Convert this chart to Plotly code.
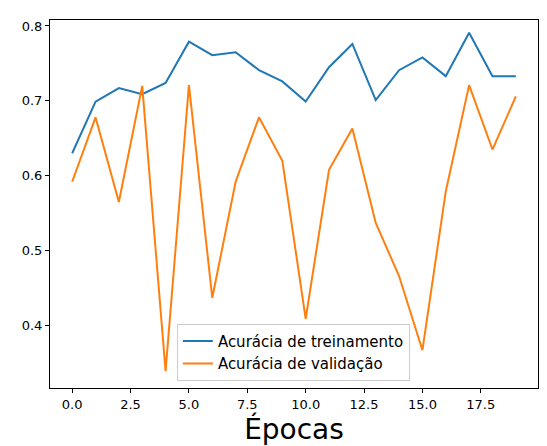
import plotly.graph_objects as go

epochs = list(range(20))
train_acc = [0.630, 0.699, 0.717, 0.709, 0.724, 0.779, 0.761, 0.765, 0.741, 0.726,
             0.699, 0.745, 0.776, 0.701, 0.741, 0.758, 0.733, 0.791, 0.733, 0.733]
val_acc = [0.592, 0.678, 0.565, 0.720, 0.339, 0.721, 0.437, 0.592, 0.678, 0.620,
           0.409, 0.608, 0.663, 0.537, 0.466, 0.367, 0.579, 0.721, 0.635, 0.706]

fig = go.Figure()
fig.add_trace(go.Scatter(x=epochs, y=train_acc, mode="lines", name="Acurácia de treinamento",
                         line=dict(color="#1f77b4", width=2)))
fig.add_trace(go.Scatter(x=epochs, y=val_acc, mode="lines", name="Acurácia de validação",
                         line=dict(color="#ff7f0e", width=2)))

axis_style = dict(showline=True, linecolor="black", mirror=True, showgrid=False, zeroline=False,
                  ticks="outside", ticklen=4, tickcolor="black", tickfont=dict(size=13, color="black"),
                  automargin=False)
fig.update_xaxes(range=[-0.95, 19.95], tickvals=[0, 2.5, 5, 7.5, 10, 12.5, 15, 17.5],
                 ticktext=["0.0", "2.5", "5.0", "7.5", "10.0", "12.5", "15.0", "17.5"],
                 title=dict(text="Épocas", font=dict(size=28, color="black"), standoff=4), **axis_style)
fig.update_yaxes(range=[0.3165, 0.808], tickvals=[0.4, 0.5, 0.6, 0.7, 0.8],
                 tickformat=".1f", **axis_style)
fig.update_layout(
    width=547, height=446, plot_bgcolor="white", paper_bgcolor="white",
    font=dict(family="DejaVu Sans"),
    margin=dict(l=42, r=17, t=12, b=66),
    legend=dict(x=0.26, y=0.02, xanchor="left", yanchor="bottom", bgcolor="rgba(255,255,255,0.8)",
                bordercolor="#cccccc", borderwidth=1, font=dict(size=15, color="black")),
)
fig.write_html("out.html")
